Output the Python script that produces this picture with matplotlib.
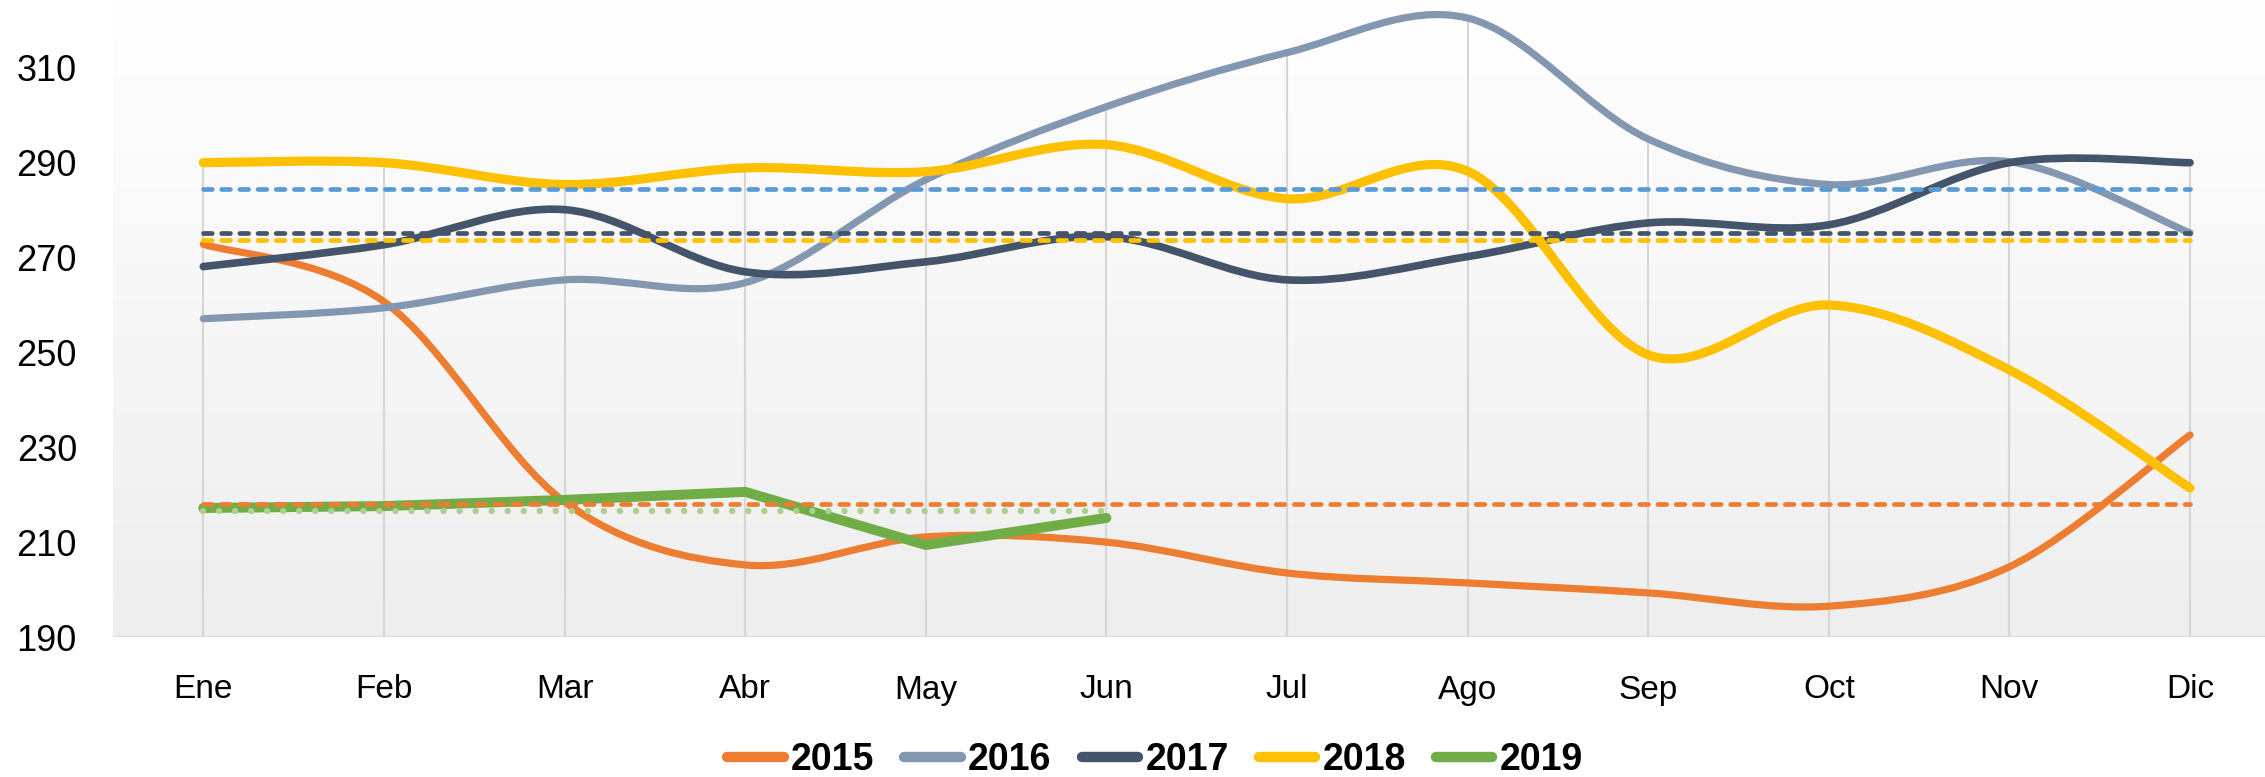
import numpy as np
import matplotlib.pyplot as plt
from matplotlib.path import Path
from matplotlib.patches import PathPatch
from matplotlib.lines import Line2D
from matplotlib.colors import LinearSegmentedColormap

plt.rcParams['font.family'] = ['Liberation Sans', 'DejaVu Sans']

# data
meses = ['Ene', 'Feb', 'Mar', 'Abr', 'May', 'Jun', 'Jul', 'Ago', 'Sep', 'Oct', 'Nov', 'Dic']
v2015 = [272.8, 260.7, 218.5, 205.2, 211.1, 210.0, 203.5, 201.4, 199.3, 196.5, 204.8, 232.6]
v2016 = [257.1, 259.4, 265.3, 264.7, 286.4, 301.8, 313.2, 320.5, 295.0, 285.4, 290.2, 275.2]
v2017 = [268.1, 272.7, 280.1, 267.0, 269.1, 274.4, 265.3, 270.2, 277.3, 276.9, 290.0, 290.0]
v2018 = [290.0, 290.0, 285.4, 288.9, 288.1, 293.8, 282.4, 288.2, 249.5, 260.0, 246.3, 221.4]
v2019 = [217.2, 217.6, 218.9, 220.6, 209.4, 215.1]
years = ['2015', '2016', '2017', '2018', '2019']
yticks = [190, 210, 230, 250, 270, 290, 310]

series = [v2015, v2016, v2017, v2018, v2019]
colors = ['#ED7D31', '#8497B0', '#44546A', '#FFC000', '#70AD47']
widths = [5.2, 5.2, 5.5, 6.6, 7.2]
smooth = [True, True, True, True, False]
avg_colors = ['#ED7D31', '#5B9BD5', '#44546A', '#FFC000', '#A9D18E']


def curve(x, y, smoothed):
    # excel style smoothed line -> cubic bezier segments
    pts = np.column_stack([x, y]).astype(float)
    n = len(pts)
    verts = [pts[0]]
    codes = [Path.MOVETO]
    for i in range(n - 1):
        if smoothed:
            p0 = pts[max(i - 1, 0)]
            p3 = pts[min(i + 2, n - 1)]
            c1 = pts[i] + (pts[i + 1] - p0) / 6.
            c2 = pts[i + 1] - (p3 - pts[i]) / 6.
            verts += [c1, c2, pts[i + 1]]
            codes += [Path.CURVE4] * 3
        else:
            verts.append(pts[i + 1])
            codes.append(Path.LINETO)
    return Path(verts, codes)


fig = plt.figure(figsize=(22.65, 7.77), dpi=100)
xmin, xmax = -0.5, 11.415
ymin, ymax = 190, 324.3
ax = fig.add_axes([113 / 2265., 140 / 777., 2152 / 2265., 637 / 777.])
ax.set_xlim(xmin, xmax)
ax.set_ylim(ymin, ymax)

# plot area gradient
cmap = LinearSegmentedColormap.from_list('bg', ['#ffffff', '#eeeeee'])
ax.imshow(np.linspace(0, 1, 256).reshape(-1, 1), cmap=cmap, extent=[xmin, xmax, ymin, ymax],
          aspect='auto', origin='upper', zorder=0)

# drop lines
x = np.arange(len(meses))
tops = [max(s[i] for s in series if i < len(s)) for i in x]
ax.vlines(x, ymin, tops, color='#d6d6d6', lw=1.5, zorder=1)
ax.axhline(ymin, color='#d9d9d9', lw=2.0, zorder=1)

for s, c, w, sm in zip(series, colors, widths, smooth):
    xs = np.arange(len(s))
    ax.add_patch(PathPatch(curve(xs, s, sm), fill=False, edgecolor=c, lw=w,
                           capstyle='round', joinstyle='round', zorder=3))

# averages
for s, c in zip(series[:4], avg_colors[:4]):
    ax.plot([0, 11], [np.mean(s)] * 2, color=c, lw=3.4, dashes=(1.85, 2.0),
            dash_capstyle='round', zorder=4)
ax.plot([0, len(v2019) - 1], [np.mean(v2019)] * 2, color=avg_colors[4], lw=4.6,
        dashes=(0.01, 2.5), dash_capstyle='round', zorder=4)

ax.set_xticks(x)
ax.set_xticklabels(meses, fontsize=24)
ax.set_yticks(yticks)
ax.set_yticklabels([str(v) for v in yticks], fontsize=26)
ax.tick_params(axis='x', length=0, pad=27)
ax.tick_params(axis='y', length=0, pad=26)
for sp in ax.spines.values():
    sp.set_visible(False)

handles = [Line2D([], [], color=c, lw=7.5, solid_capstyle='round') for c in colors]
leg = fig.legend(handles, years, loc='center', bbox_to_anchor=(1155 / 2265., 17 / 777.), ncol=5,
                 frameon=False, handlelength=1.5, handletextpad=0.2, columnspacing=0.8,
                 prop={'size': 27, 'weight': 'bold'})

fig.savefig('out.png', dpi=100)
